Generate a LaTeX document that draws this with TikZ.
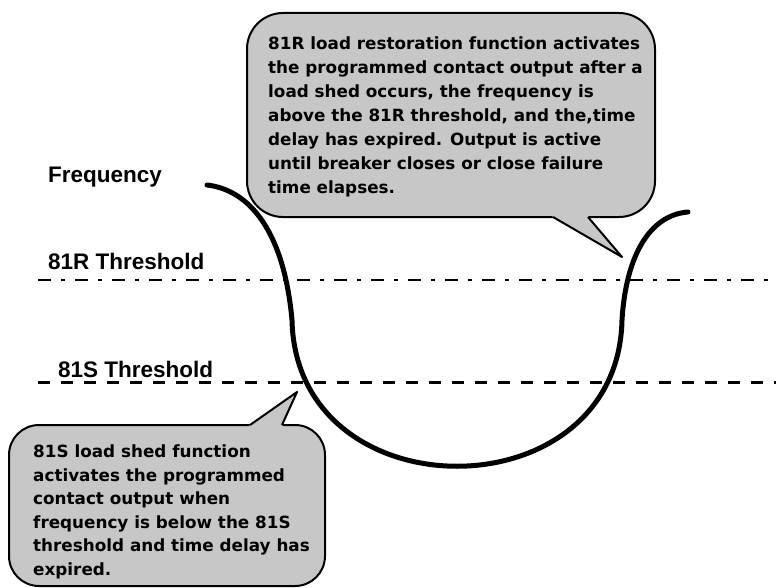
\documentclass[tikz,border=0pt]{standalone}
\usepackage{fontspec}
\setmainfont{Liberation Sans}
\newfontfamily\notefont{DejaVu Sans}
\usetikzlibrary{positioning}

\begin{document}
\begin{tikzpicture}[x=1pt,y=-1pt,
	lbl/.style={font=\bfseries\fontsize{22.5}{26}\selectfont,inner sep=0pt,anchor=base west},
	note/.style={font=\notefont\bfseries\fontsize{16.8}{24}\selectfont,align=left,inner sep=0pt,anchor=north west},
	bubble/.style={draw=black,line width=2pt,fill=black!22,line join=round},
	tail/.style={fill=black!22},
	tailside/.style={line width=2pt,line join=round},
	freq/.style={line width=5pt,line cap=round},
	rline/.style={line width=2.5pt,dash pattern=on 13pt off 10pt on 4pt off 10pt},
	sline/.style={line width=3pt,dash pattern=on 12pt off 11pt}]
	\useasboundingbox (0,0) rectangle (776,588);
	\draw[bubble,rounded corners=36] (247,13) rectangle (655,217);
	\fill[tail] (551,214.5) -- (553,217) -- (622,257) -- (588,217) -- (590,214.5) -- cycle;
	\draw[tailside] (553,217) -- (622,257) -- (588,217);
	\draw[bubble,rounded corners=30] (9,425) rectangle (325,586);
	\fill[tail] (248,427.5) -- (250,425) -- (297,392) -- (282,425) -- (284,427.5) -- cycle;
	\draw[tailside] (250,425) -- (297,392) -- (282,425);
	\node[note] (rnote) at (268,37) {81R load restoration function activates\\the programmed contact output after a\\load shed occurs, the frequency is\\above the 81R threshold, and the,time\\delay has expired. Output is active\\until breaker closes or close failure\\time elapses.};
	\node[note,font=\notefont\bfseries\fontsize{16.8}{23.5}\selectfont] (snote) at (33,445) {81S load shed function\\activates the programmed\\contact output when\\frequency is below the 81S\\threshold and time delay has\\expired.};
	\node[lbl] (freqlabel) at (48,183) {Frequency};
	\node[lbl] (rlabel) at (48,269) {81R Threshold};
	\node[lbl] (slabel) at (58,377) {81S Threshold};
	\coordinate (r0) at (38,280);
	\coordinate (r1) at (776,280);
	\coordinate (s0) at (38,382);
	\coordinate (s1) at (776,382);
	\draw[rline] (r0) -- (r1);
	\draw[sline] (s0) -- (s1);
	\draw[freq] (207,185) .. controls (250,190) and (284,232) .. (292,320) .. controls (296,515) and (618,515) .. (622,320) .. controls (626,255) and (650,215) .. (688,212);
\end{tikzpicture}
\end{document}
